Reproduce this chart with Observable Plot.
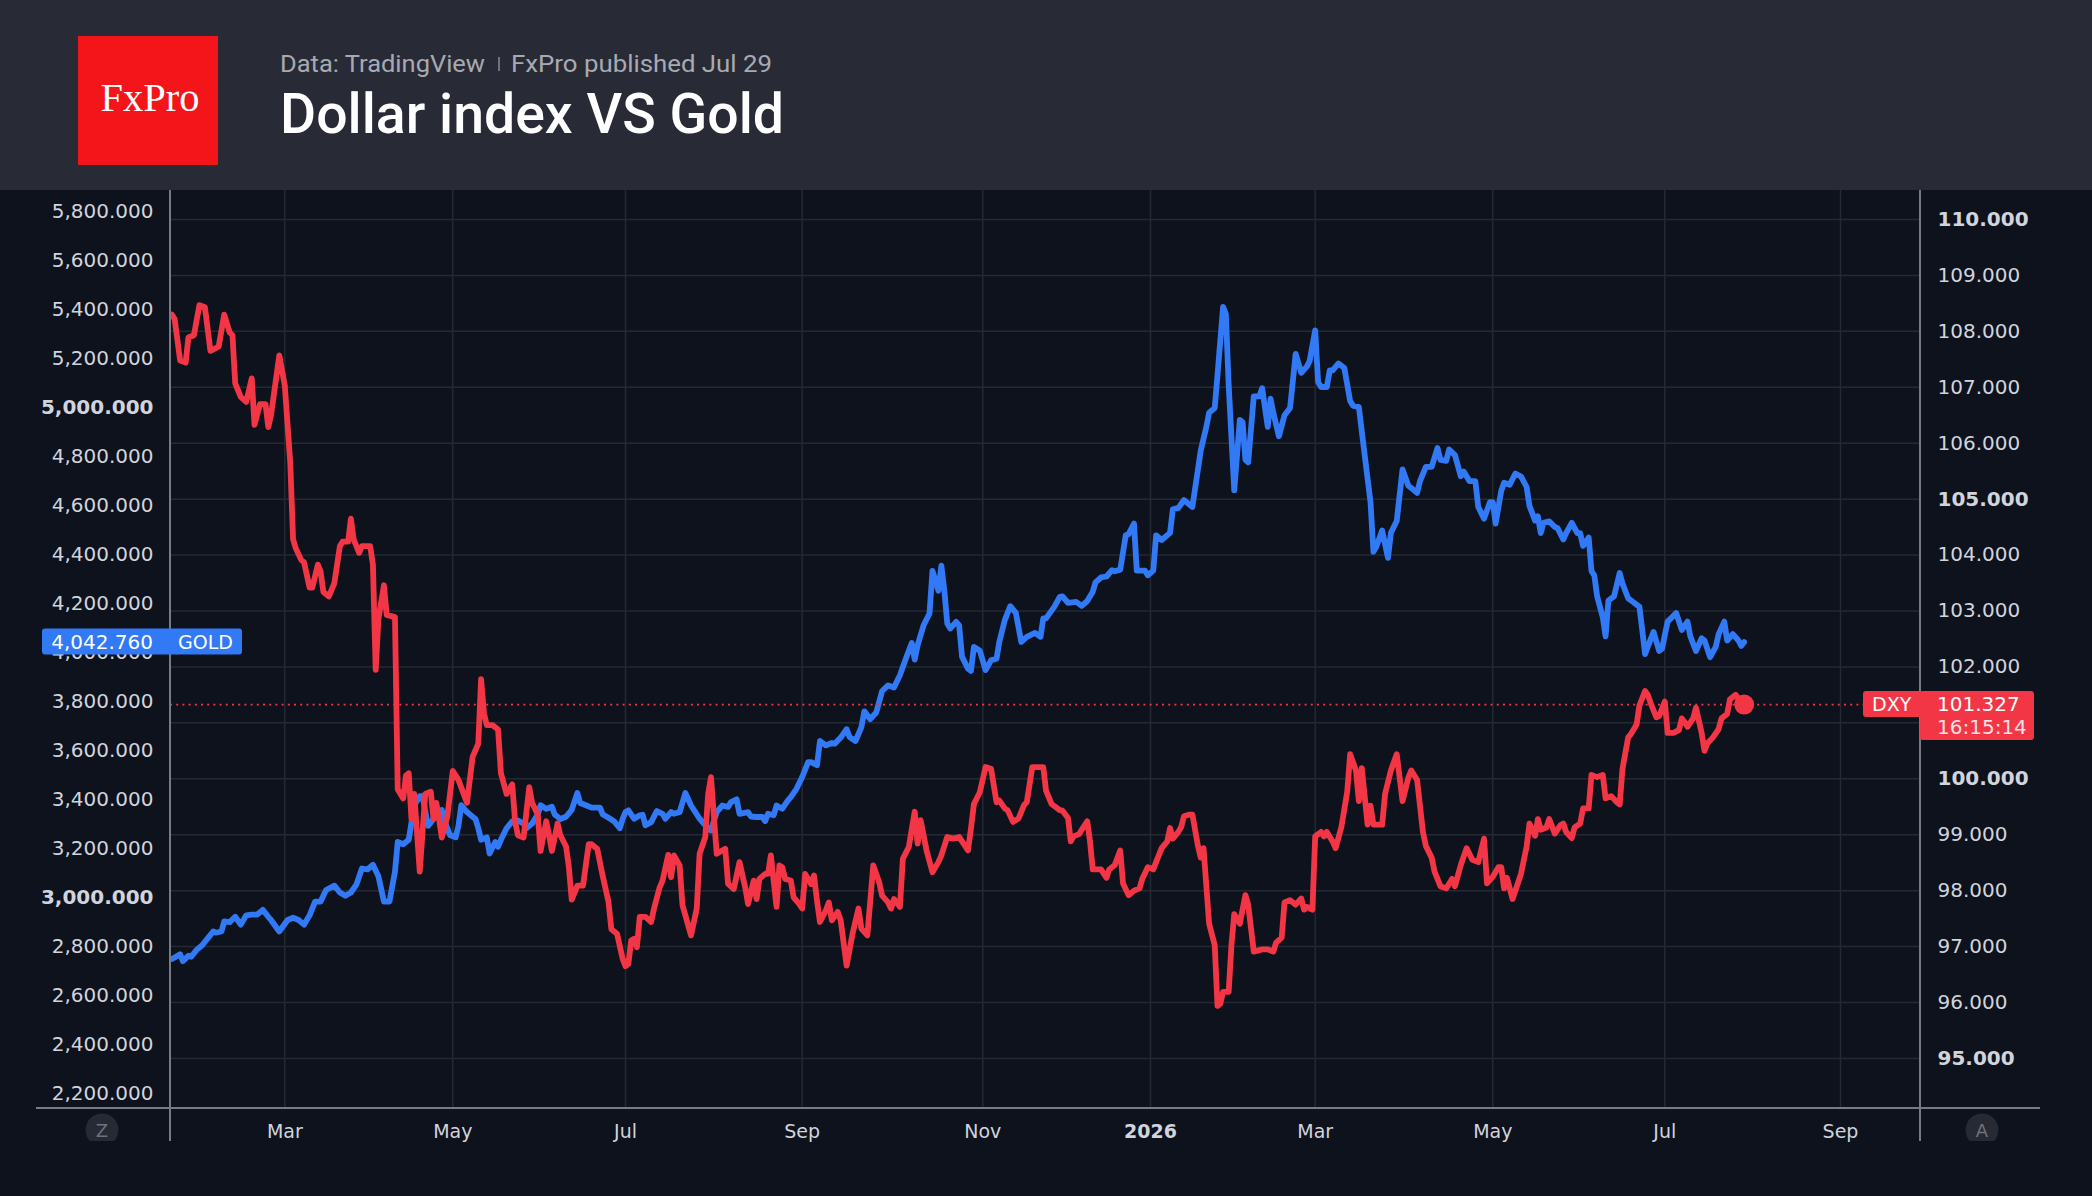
<!DOCTYPE html>
<html>
<head>
<meta charset="utf-8">
<script src="https://cdn.jsdelivr.net/npm/d3@7"></script>
<script src="https://cdn.jsdelivr.net/npm/@observablehq/plot@0.6"></script>
<style>
  html, body { margin: 0; padding: 0; background: #0d121d; }
  #page { position: relative; width: 2092px; height: 1196px; background: #0d121d; overflow: hidden; }
  #page > svg, #page > .layer { position: absolute; left: 0; }
  .layer { top: 190px; }
</style>
</head>
<body>
<div id="page"></div>
<script>
// ---------- DATA ----------
const titleText = "Dollar index VS Gold";
const sourceText = "Data: TradingView";
const publishedText = "FxPro published Jul 29";

const goldDates = ["2025-01-19","2025-01-20","2025-01-22","2025-01-23","2025-01-25","2025-01-26","2025-01-28","2025-01-30","2025-02-01","2025-02-03","2025-02-04","2025-02-06","2025-02-07","2025-02-09","2025-02-11","2025-02-13","2025-02-15","2025-02-17","2025-02-19","2025-02-21","2025-02-23","2025-02-24","2025-02-27","2025-03-02","2025-03-04","2025-03-06","2025-03-08","2025-03-10","2025-03-12","2025-03-14","2025-03-16","2025-03-19","2025-03-21","2025-03-23","2025-03-25","2025-03-27","2025-03-29","2025-03-31","2025-04-02","2025-04-04","2025-04-06","2025-04-08","2025-04-10","2025-04-11","2025-04-13","2025-04-15","2025-04-17","2025-04-19","2025-04-20","2025-04-22","2025-04-24","2025-04-25","2025-04-27","2025-04-28","2025-04-30","2025-05-02","2025-05-03","2025-05-04","2025-05-06","2025-05-08","2025-05-09","2025-05-10","2025-05-11","2025-05-13","2025-05-14","2025-05-16","2025-05-17","2025-05-18","2025-05-20","2025-05-22","2025-05-24","2025-05-26","2025-05-27","2025-05-29","2025-05-31","2025-06-01","2025-06-03","2025-06-05","2025-06-06","2025-06-08","2025-06-10","2025-06-12","2025-06-14","2025-06-15","2025-06-17","2025-06-19","2025-06-22","2025-06-23","2025-06-25","2025-06-27","2025-06-29","2025-06-30","2025-07-01","2025-07-02","2025-07-04","2025-07-06","2025-07-07","2025-07-08","2025-07-10","2025-07-12","2025-07-14","2025-07-15","2025-07-17","2025-07-18","2025-07-20","2025-07-22","2025-07-24","2025-07-27","2025-07-29","2025-07-31","2025-08-02","2025-08-04","2025-08-06","2025-08-07","2025-08-09","2025-08-10","2025-08-13","2025-08-14","2025-08-16","2025-08-18","2025-08-19","2025-08-20","2025-08-22","2025-08-23","2025-08-25","2025-08-27","2025-08-28","2025-08-30","2025-09-01","2025-09-03","2025-09-04","2025-09-06","2025-09-07","2025-09-09","2025-09-11","2025-09-12","2025-09-14","2025-09-16","2025-09-17","2025-09-19","2025-09-21","2025-09-22","2025-09-24","2025-09-26","2025-09-28","2025-09-30","2025-10-02","2025-10-04","2025-10-06","2025-10-08","2025-10-09","2025-10-10","2025-10-12","2025-10-14","2025-10-15","2025-10-17","2025-10-18","2025-10-19","2025-10-20","2025-10-21","2025-10-23","2025-10-24","2025-10-25","2025-10-27","2025-10-28","2025-10-29","2025-10-31","2025-11-02","2025-11-04","2025-11-06","2025-11-07","2025-11-09","2025-11-11","2025-11-13","2025-11-15","2025-11-17","2025-11-20","2025-11-22","2025-11-23","2025-11-24","2025-11-27","2025-11-29","2025-11-30","2025-12-02","2025-12-05","2025-12-07","2025-12-09","2025-12-11","2025-12-12","2025-12-14","2025-12-16","2025-12-18","2025-12-19","2025-12-21","2025-12-23","2025-12-24","2025-12-26","2025-12-27","2025-12-30","2025-12-31","2026-01-02","2026-01-03","2026-01-05","2026-01-08","2026-01-09","2026-01-11","2026-01-13","2026-01-15","2026-01-16","2026-01-18","2026-01-19","2026-01-21","2026-01-22","2026-01-24","2026-01-25","2026-01-27","2026-01-28","2026-01-29","2026-01-31","2026-02-02","2026-02-03","2026-02-04","2026-02-05","2026-02-07","2026-02-09","2026-02-10","2026-02-12","2026-02-13","2026-02-14","2026-02-16","2026-02-18","2026-02-20","2026-02-22","2026-02-24","2026-02-26","2026-02-27","2026-03-01","2026-03-02","2026-03-03","2026-03-05","2026-03-06","2026-03-07","2026-03-09","2026-03-11","2026-03-13","2026-03-14","2026-03-16","2026-03-18","2026-03-20","2026-03-21","2026-03-22","2026-03-24","2026-03-26","2026-03-27","2026-03-29","2026-03-31","2026-04-02","2026-04-03","2026-04-05","2026-04-06","2026-04-08","2026-04-10","2026-04-12","2026-04-13","2026-04-15","2026-04-16","2026-04-18","2026-04-20","2026-04-21","2026-04-23","2026-04-25","2026-04-26","2026-04-28","2026-04-30","2026-05-01","2026-05-02","2026-05-04","2026-05-05","2026-05-07","2026-05-09","2026-05-11","2026-05-13","2026-05-14","2026-05-16","2026-05-17","2026-05-18","2026-05-19","2026-05-21","2026-05-23","2026-05-24","2026-05-26","2026-05-27","2026-05-29","2026-05-31","2026-06-01","2026-06-02","2026-06-04","2026-06-05","2026-06-06","2026-06-07","2026-06-09","2026-06-10","2026-06-11","2026-06-13","2026-06-15","2026-06-16","2026-06-18","2026-06-20","2026-06-22","2026-06-23","2026-06-24","2026-06-25","2026-06-27","2026-06-29","2026-06-30","2026-07-02","2026-07-05","2026-07-07","2026-07-09","2026-07-10","2026-07-12","2026-07-14","2026-07-15","2026-07-17","2026-07-19","2026-07-20","2026-07-22","2026-07-23","2026-07-25","2026-07-27","2026-07-28","2026-07-29"];
const goldValues = [2750,2756,2769,2741,2763,2759,2787,2806,2834,2862,2857,2862,2903,2900,2922,2890,2928,2931,2931,2950,2922,2909,2862,2909,2918,2909,2890,2928,2984,2984,3031,3049,3021,3008,3021,3053,3119,3115,3134,3087,2984,2984,3106,3227,3218,3236,3377,3414,3414,3293,3321,3349,3358,3311,3255,3246,3293,3377,3349,3330,3321,3283,3236,3246,3180,3227,3208,3236,3283,3311,3315,3302,3283,3302,3339,3377,3362,3371,3339,3321,3330,3358,3427,3386,3377,3367,3367,3339,3326,3311,3283,3321,3349,3356,3322,3336,3338,3295,3308,3353,3342,3322,3349,3342,3349,3427,3376,3322,3295,3274,3349,3376,3370,3390,3401,3342,3349,3331,3329,3329,3312,3342,3336,3376,3363,3397,3410,3444,3492,3553,3553,3540,3639,3621,3631,3628,3653,3687,3655,3639,3696,3760,3728,3755,3843,3866,3857,3907,3975,4039,3971,4030,4111,4159,4333,4252,4354,4254,4118,4098,4125,4111,3982,3934,3925,4023,4007,3928,3968,3975,4043,4132,4189,4162,4043,4064,4080,4064,4139,4139,4186,4227,4229,4202,4206,4190,4210,4248,4286,4306,4310,4336,4331,4338,4478,4482,4526,4334,4334,4315,4334,4478,4459,4488,4584,4590,4622,4603,4594,4747,4824,4920,4978,4997,5131,5410,5381,5093,4661,4949,4939,4786,4776,5045,5045,5078,4920,5035,4978,4882,4968,4997,5218,5141,5166,5189,5314,5103,5083,5083,5151,5151,5179,5160,5026,5007,5001,4805,4613,4411,4431,4498,4386,4488,4536,4747,4680,4671,4651,4699,4757,4757,4834,4786,4782,4828,4805,4719,4738,4699,4699,4594,4546,4613,4613,4526,4660,4692,4684,4730,4718,4675,4598,4538,4555,4487,4529,4535,4512,4507,4461,4487,4529,4487,4487,4435,4469,4332,4315,4229,4144,4066,4212,4229,4324,4281,4221,4204,4186,4092,3993,4024,4084,4006,4015,4126,4161,4092,4126,4066,4006,4058,4049,3981,4024,4075,4126,4049,4075,4049,4027,4042.76];

const dxyDates = ["2025-01-19","2025-01-20","2025-01-22","2025-01-24","2025-01-25","2025-01-27","2025-01-29","2025-01-31","2025-02-02","2025-02-05","2025-02-07","2025-02-09","2025-02-10","2025-02-11","2025-02-13","2025-02-15","2025-02-17","2025-02-18","2025-02-20","2025-02-22","2025-02-23","2025-02-24","2025-02-27","2025-03-01","2025-03-03","2025-03-04","2025-03-05","2025-03-07","2025-03-08","2025-03-10","2025-03-11","2025-03-13","2025-03-14","2025-03-15","2025-03-17","2025-03-19","2025-03-21","2025-03-22","2025-03-24","2025-03-25","2025-03-26","2025-03-28","2025-03-29","2025-04-01","2025-04-02","2025-04-03","2025-04-04","2025-04-06","2025-04-07","2025-04-10","2025-04-11","2025-04-13","2025-04-14","2025-04-15","2025-04-16","2025-04-17","2025-04-19","2025-04-21","2025-04-23","2025-04-24","2025-04-25","2025-04-26","2025-04-27","2025-04-29","2025-05-01","2025-05-03","2025-05-06","2025-05-08","2025-05-10","2025-05-11","2025-05-12","2025-05-13","2025-05-15","2025-05-17","2025-05-18","2025-05-20","2025-05-22","2025-05-23","2025-05-24","2025-05-26","2025-05-28","2025-05-29","2025-05-31","2025-06-01","2025-06-03","2025-06-04","2025-06-05","2025-06-07","2025-06-08","2025-06-10","2025-06-11","2025-06-12","2025-06-14","2025-06-16","2025-06-18","2025-06-19","2025-06-21","2025-06-23","2025-06-25","2025-06-26","2025-06-28","2025-06-30","2025-07-01","2025-07-02","2025-07-03","2025-07-04","2025-07-05","2025-07-06","2025-07-08","2025-07-10","2025-07-11","2025-07-13","2025-07-14","2025-07-16","2025-07-17","2025-07-18","2025-07-20","2025-07-21","2025-07-24","2025-07-25","2025-07-26","2025-07-27","2025-07-29","2025-07-30","2025-07-31","2025-08-02","2025-08-03","2025-08-05","2025-08-06","2025-08-08","2025-08-10","2025-08-12","2025-08-13","2025-08-15","2025-08-16","2025-08-17","2025-08-19","2025-08-20","2025-08-21","2025-08-23","2025-08-24","2025-08-25","2025-08-26","2025-08-28","2025-08-29","2025-08-31","2025-09-01","2025-09-02","2025-09-04","2025-09-05","2025-09-06","2025-09-07","2025-09-09","2025-09-10","2025-09-11","2025-09-13","2025-09-14","2025-09-16","2025-09-18","2025-09-20","2025-09-21","2025-09-23","2025-09-25","2025-09-27","2025-09-28","2025-09-30","2025-10-01","2025-10-02","2025-10-04","2025-10-05","2025-10-07","2025-10-09","2025-10-10","2025-10-11","2025-10-13","2025-10-15","2025-10-17","2025-10-18","2025-10-20","2025-10-22","2025-10-24","2025-10-27","2025-10-28","2025-10-29","2025-10-31","2025-11-02","2025-11-04","2025-11-06","2025-11-07","2025-11-09","2025-11-10","2025-11-12","2025-11-14","2025-11-16","2025-11-17","2025-11-19","2025-11-23","2025-11-24","2025-11-26","2025-11-29","2025-11-30","2025-12-02","2025-12-03","2025-12-04","2025-12-06","2025-12-07","2025-12-09","2025-12-10","2025-12-11","2025-12-13","2025-12-14","2025-12-16","2025-12-17","2025-12-19","2025-12-21","2025-12-22","2025-12-24","2025-12-26","2025-12-28","2025-12-29","2025-12-31","2026-01-02","2026-01-03","2026-01-05","2026-01-07","2026-01-08","2026-01-09","2026-01-11","2026-01-12","2026-01-13","2026-01-15","2026-01-16","2026-01-18","2026-01-19","2026-01-20","2026-01-22","2026-01-24","2026-01-25","2026-01-26","2026-01-27","2026-01-29","2026-01-30","2026-01-31","2026-02-02","2026-02-04","2026-02-05","2026-02-07","2026-02-10","2026-02-12","2026-02-14","2026-02-15","2026-02-17","2026-02-18","2026-02-20","2026-02-22","2026-02-24","2026-02-25","2026-02-26","2026-02-28","2026-03-01","2026-03-03","2026-03-04","2026-03-05","2026-03-07","2026-03-08","2026-03-10","2026-03-12","2026-03-13","2026-03-15","2026-03-16","2026-03-17","2026-03-19","2026-03-20","2026-03-21","2026-03-24","2026-03-25","2026-03-27","2026-03-29","2026-03-30","2026-03-31","2026-04-02","2026-04-03","2026-04-05","2026-04-07","2026-04-08","2026-04-10","2026-04-11","2026-04-13","2026-04-15","2026-04-17","2026-04-18","2026-04-20","2026-04-22","2026-04-24","2026-04-26","2026-04-28","2026-04-29","2026-05-01","2026-05-03","2026-05-04","2026-05-05","2026-05-06","2026-05-08","2026-05-10","2026-05-11","2026-05-13","2026-05-14","2026-05-16","2026-05-17","2026-05-18","2026-05-20","2026-05-21","2026-05-23","2026-05-25","2026-05-26","2026-05-27","2026-05-29","2026-05-30","2026-06-01","2026-06-02","2026-06-04","2026-06-05","2026-06-07","2026-06-09","2026-06-10","2026-06-12","2026-06-14","2026-06-15","2026-06-16","2026-06-18","2026-06-19","2026-06-21","2026-06-22","2026-06-24","2026-06-25","2026-06-26","2026-06-28","2026-06-29","2026-07-01","2026-07-02","2026-07-04","2026-07-06","2026-07-07","2026-07-08","2026-07-09","2026-07-11","2026-07-12","2026-07-14","2026-07-15","2026-07-16","2026-07-18","2026-07-20","2026-07-21","2026-07-23","2026-07-24","2026-07-25","2026-07-26","2026-07-28","2026-07-29"];
const dxyValues = [108.30,108.22,107.48,107.44,107.89,107.93,108.47,108.43,107.65,107.73,108.30,107.98,107.93,107.07,106.83,106.74,107.16,106.33,106.70,106.70,106.29,106.50,107.57,107.03,105.64,104.28,104.12,103.91,103.87,103.42,103.42,103.83,103.71,103.34,103.26,103.50,104.16,104.24,104.24,104.65,104.28,104.04,104.16,104.16,103.83,101.95,102.85,103.46,102.93,102.89,99.81,99.65,100.06,100.10,99.28,99.73,98.34,99.73,99.77,99.28,99.57,99.28,98.95,99.32,100.14,99.98,99.57,100.39,100.63,101.78,101.17,100.96,100.96,100.88,100.10,99.73,99.90,99.24,98.99,98.95,99.85,99.57,99.36,98.71,99.24,98.99,98.71,99.20,98.99,98.79,98.42,97.84,98.09,98.09,98.83,98.83,98.75,98.25,97.80,97.31,97.23,96.78,96.65,96.69,97.11,97.14,96.99,97.53,97.53,97.44,97.68,98.06,98.18,98.64,98.24,98.63,98.45,97.74,97.20,97.44,97.68,98.66,98.96,99.73,100.03,98.66,98.69,98.75,98.12,98.03,98.51,98.06,97.76,98.18,97.85,98.21,98.30,98.30,98.63,97.71,98.45,98.42,98.21,98.18,97.88,97.76,97.68,98.30,98.12,98.27,97.82,97.44,97.65,97.79,97.47,97.62,97.47,96.66,97.23,97.68,97.32,97.20,98.45,98.15,97.91,97.79,97.68,97.85,97.71,98.57,98.78,99.41,98.84,99.26,98.72,98.33,98.51,98.63,98.96,98.93,98.96,98.72,99.11,99.55,99.76,100.21,100.18,99.58,99.61,99.47,99.44,99.23,99.29,99.53,99.58,100.21,100.21,99.79,99.55,99.44,99.43,99.30,98.88,98.97,99.01,99.09,99.24,98.88,98.38,98.38,98.38,98.23,98.38,98.46,98.72,98.13,97.92,98.00,98.04,98.21,98.42,98.38,98.51,98.76,98.88,99.12,98.93,99.05,99.14,99.33,99.36,99.36,98.80,98.59,98.76,97.41,97.03,95.94,95.98,96.19,96.19,97.03,97.58,97.41,97.92,97.75,96.91,96.95,96.95,96.91,97.07,97.16,97.79,97.83,97.75,97.86,97.66,97.71,97.66,98.97,99.05,98.97,99.05,98.88,98.76,99.14,99.77,100.44,100.15,99.60,100.19,99.18,99.52,99.18,99.18,99.73,100.15,100.44,100.02,99.60,100.02,100.15,99.98,99.05,98.80,98.59,98.34,98.08,98.04,98.21,98.08,98.46,98.76,98.55,98.51,98.93,98.13,98.25,98.42,98.42,98.04,98.23,97.85,98.15,98.30,98.79,99.20,98.98,99.28,99.09,99.13,99.28,99.02,99.17,99.20,99.05,98.94,99.13,99.20,99.47,99.47,100.07,100.03,100.07,99.65,99.69,99.58,99.54,100.18,100.74,100.80,100.97,101.31,101.57,101.50,101.35,101.10,101.12,101.38,100.82,100.82,100.87,101.08,101.01,100.93,101.08,101.27,100.82,100.50,100.63,100.74,100.89,101.08,101.16,101.42,101.46,101.50,101.37,101.327];

const goldTicks = [2200,2400,2600,2800,3000,3200,3400,3600,3800,4000,4200,4400,4600,4800,5000,5200,5400,5600,5800];
const goldMajorTicks = [3000,5000];
const dxyGrid = [95,96,97,98,99,100,101,102,103,104,105,106,107,108,109,110];
const dxyTicks = [95,96,97,98,99,100,102,103,104,105,106,107,108,109,110]; // 101 sits under the price tag
const dxyMajorTicks = [95,100,105,110];
const monthTicks = ["2025-03-01","2025-05-01","2025-07-01","2025-09-01","2025-11-01","2026-01-01","2026-03-01","2026-05-01","2026-07-01","2026-09-01"];
const monthLabels = ["Mar","May","Jul","Sep","Nov","2026","Mar","May","Jul","Sep"];
const yearTick = "2026-01-01";

const goldName = "GOLD", goldLast = "4,042.760";
const dxyName = "DXY", dxyLast = "101.327", dxyCountdown = "16:15:14";

// visible ranges of the two price scales and of time
const xDomain = ["2025-01-18T12:00:00Z","2026-09-29T00:00:00Z"];
const goldDomain = [2140, 5884.4];
const dxyDomain = [94.105, 110.5185];

// ---------- STYLE ----------
const BLUE = "#3179f5", RED = "#f23645", GRID = "#252933", AXIS = "#787b86", TXT = "#d1d4dc";
// bar-spaced time axis: pixel stops of the domain ends and month ticks (trading-day spacing)
const xStops = [170, 284.3, 452.3, 625, 801.7, 982.3, 1150, 1314.7, 1492.3, 1664.3, 1840, 1920];

const gold = goldDates.map((d, i) => ({date: new Date(d), value: goldValues[i]}));
const dxy = dxyDates.map((d, i) => ({date: new Date(d), value: dxyValues[i]}));
const tickDates = monthTicks.map(d => new Date(d));
const labelOf = new Map(monthTicks.map((d, i) => [+new Date(d), monthLabels[i]]));

const W = 2092, H = 1006, TOP = 190;
const common = {
  width: W, height: H,
  marginLeft: 170, marginRight: 172, marginTop: 0, marginBottom: 88,
  style: {background: "transparent", fontFamily: "DejaVu Sans", fontSize: "20px", color: TXT, overflow: "visible"}
};
const xOpt = {
  type: "utc",
  domain: [new Date(xDomain[0]), ...tickDates, new Date(xDomain[1])],
  range: xStops,
  label: null
};

const gridPlot = Plot.plot({
  ...common,
  x: xOpt,
  y: {domain: dxyDomain, axis: null, label: null},
  marks: [
    Plot.ruleY(dxyGrid, {stroke: GRID, strokeWidth: 1.5}),
    Plot.ruleX(tickDates, {stroke: GRID, strokeWidth: 1.5}),
    Plot.axisX(tickDates.filter(d => +d !== +new Date(yearTick)), {tickSize: 0, tickPadding: 16, fontSize: 19, tickFormat: d => labelOf.get(+d)}),
    Plot.axisX([new Date(yearTick)], {tickSize: 0, tickPadding: 16, fontSize: 19, fontWeight: "bold", tickFormat: d => labelOf.get(+d)})
  ]
});

const goldPlot = Plot.plot({
  ...common,
  x: {...xOpt, axis: null},
  y: {domain: goldDomain, label: null},
  marks: [
    Plot.axisY(goldTicks.filter(t => !goldMajorTicks.includes(t)), {anchor: "left", tickSize: 0, tickPadding: 17, fontSize: 20, tickFormat: d3.format(",.3f")}),
    Plot.axisY(goldMajorTicks, {anchor: "left", tickSize: 0, tickPadding: 17, fontSize: 20, fontWeight: "bold", tickFormat: d3.format(",.3f")}),
    Plot.line(gold, {x: "date", y: "value", stroke: BLUE, strokeWidth: 5.8, strokeLinejoin: "round", strokeLinecap: "round", clip: true})
  ]
});

const lastDxy = dxy[dxy.length - 1];
const dxyPlot = Plot.plot({
  ...common,
  x: {...xOpt, axis: null},
  y: {domain: dxyDomain, label: null},
  marks: [
    Plot.axisY(dxyTicks.filter(t => !dxyMajorTicks.includes(t)), {anchor: "right", tickSize: 0, tickPadding: 17, fontSize: 20, tickFormat: d3.format(".3f")}),
    Plot.axisY(dxyMajorTicks, {anchor: "right", tickSize: 0, tickPadding: 17, fontSize: 20, fontWeight: "bold", tickFormat: d3.format(".3f")}),
    Plot.ruleY([lastDxy.value], {stroke: RED, strokeWidth: 1.8, strokeDasharray: "2,4.2"}),
    Plot.line(dxy, {x: "date", y: "value", stroke: RED, strokeWidth: 5.8, strokeLinejoin: "round", strokeLinecap: "round", clip: true}),
    Plot.dot([lastDxy], {x: "date", y: "value", r: 10, fill: RED, stroke: "none"})
  ]
});

const page = document.getElementById("page");
const NS = "http://www.w3.org/2000/svg";
function el(tag, attrs, text) {
  const e = document.createElementNS(NS, tag);
  for (const k in attrs) e.setAttribute(k, attrs[k]);
  if (text != null) e.textContent = text;
  return e;
}

// header
const head = el("svg", {width: W, height: TOP, style: "top:0"});
head.appendChild(el("rect", {x: 0, y: 0, width: W, height: TOP, fill: "#282b36"}));
head.appendChild(el("rect", {x: 78, y: 36, width: 140, height: 129, fill: "#f3151a"}));
head.appendChild(el("text", {x: 150, y: 111, "text-anchor": "middle", "font-family": "Liberation Serif", "font-size": 40, fill: "#fff", textLength: 99, lengthAdjust: "spacingAndGlyphs"}, "FxPro"));
head.appendChild(el("text", {x: 280, y: 72, "font-family": "Roboto", "font-size": 24, fill: "#a8aab1", textLength: 205, lengthAdjust: "spacingAndGlyphs"}, sourceText));
head.appendChild(el("line", {x1: 499, x2: 499, y1: 57, y2: 71, stroke: "#8a8d95", "stroke-width": 1.5}));
head.appendChild(el("text", {x: 511, y: 72, "font-family": "Roboto", "font-size": 24, fill: "#a8aab1", textLength: 261, lengthAdjust: "spacingAndGlyphs"}, publishedText));
head.appendChild(el("text", {x: 280, y: 133, "font-family": "Roboto", "font-size": 55, "font-weight": 500, fill: "#ffffff", textLength: 504, lengthAdjust: "spacingAndGlyphs"}, titleText));
page.appendChild(head);

for (const p of [gridPlot, goldPlot, dxyPlot]) {
  const wrap = document.createElement("div");
  wrap.className = "layer";
  wrap.appendChild(p);
  page.appendChild(wrap);
}

// price-scale frame, tags and corner buttons
const ov = el("svg", {width: W, height: 1196 - TOP, style: "top:" + TOP + "px"});
const frameBottom = H - common.marginBottom;           // 918
const xL = common.marginLeft, xR = W - common.marginRight;
ov.appendChild(el("line", {x1: 36, x2: 2040, y1: frameBottom, y2: frameBottom, stroke: AXIS, "stroke-width": 2}));
ov.appendChild(el("line", {x1: xL, x2: xL, y1: 0, y2: 951, stroke: AXIS, "stroke-width": 2}));
ov.appendChild(el("line", {x1: xR, x2: xR, y1: 0, y2: 951, stroke: AXIS, "stroke-width": 2}));

const clipDef = el("defs", {});
const cp = el("clipPath", {id: "btnclip"});
cp.appendChild(el("rect", {x: 0, y: 0, width: W, height: 951}));
clipDef.appendChild(cp);
ov.appendChild(clipDef);
const btns = el("g", {"clip-path": "url(#btnclip)"});
for (const [cx, t] of [[102, "Z"], [1982, "A"]]) {
  btns.appendChild(el("circle", {cx, cy: 940, r: 16.5, fill: "#262a35"}));
  btns.appendChild(el("text", {x: cx, y: 940, "text-anchor": "middle", "dominant-baseline": "central", "font-family": "DejaVu Sans", "font-size": 18, fill: "#6f727c"}, t));
}
ov.appendChild(btns);

// GOLD tag on the left scale
const yG = goldPlot.scale("y").apply(gold[gold.length - 1].value);
ov.appendChild(el("rect", {x: 42, y: yG - 13, width: 200, height: 26, rx: 3, fill: BLUE}));
ov.appendChild(el("text", {x: 153, y: yG, "text-anchor": "end", "dominant-baseline": "central", "font-family": "DejaVu Sans", "font-size": 20, fill: "#fff"}, goldLast));
ov.appendChild(el("text", {x: 178, y: yG, "dominant-baseline": "central", "font-family": "DejaVu Sans", "font-size": 19, fill: "#fff"}, goldName));

// DXY tag on the right scale
const yD = dxyPlot.scale("y").apply(lastDxy.value);
ov.appendChild(el("rect", {x: 1863, y: yD - 13, width: 60, height: 26, rx: 3, fill: RED}));
ov.appendChild(el("rect", {x: xR, y: yD - 13, width: 114, height: 49, rx: 3, fill: RED}));
ov.appendChild(el("text", {x: 1872, y: yD, "dominant-baseline": "central", "font-family": "DejaVu Sans", "font-size": 19, fill: "#fff"}, dxyName));
ov.appendChild(el("text", {x: 1937, y: yD, "dominant-baseline": "central", "font-family": "DejaVu Sans", "font-size": 20, fill: "#fff"}, dxyLast));
ov.appendChild(el("text", {x: 1937, y: yD + 23, "dominant-baseline": "central", "font-family": "DejaVu Sans", "font-size": 20, fill: "#fde2e4"}, dxyCountdown));
page.appendChild(ov);
</script>
</body>
</html>
